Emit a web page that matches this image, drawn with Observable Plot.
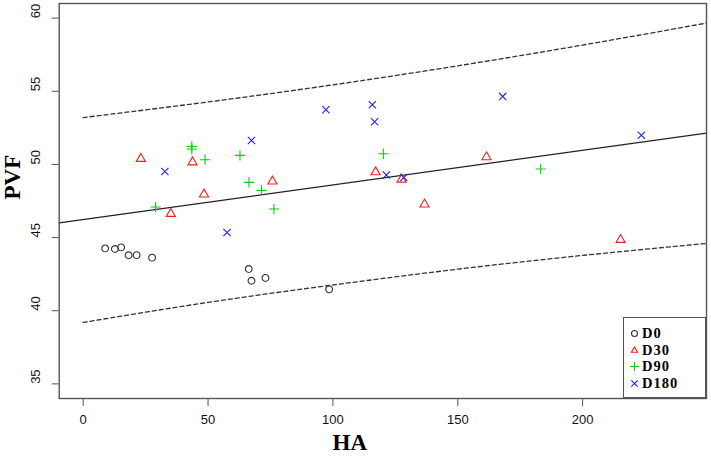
<!DOCTYPE html>
<html>
<head>
<meta charset="utf-8">
<script src="https://cdn.jsdelivr.net/npm/d3@7"></script>
<script src="https://cdn.jsdelivr.net/npm/@observablehq/plot@0.6"></script>
<style>
  html, body { margin: 0; padding: 0; background: #fff; }
  #wrap { position: relative; width: 711px; height: 460px; }
  #legend {
    position: absolute; left: 623px; top: 317px; width: 83px; height: 81px;
    border: 1.3px solid #555; background: #fff; box-sizing: border-box;
  }
  .row { position: absolute; left: 0; height: 15px; display: flex; align-items: center; }
  .row svg { margin-left: 6px; margin-right: 3px; }
  .row span { font-family: "Liberation Serif", "Times New Roman", serif; font-weight: bold; font-size: 14.5px; letter-spacing: 1px; line-height: 15px; color: #000; }
</style>
</head>
<body>
<div id="wrap"></div>
<script>
// ---- data ----
const d0HA   = [8.8, 12.7, 15.2, 18.2, 21.4, 27.6, 66.3, 67.4, 73.0, 98.5];
const d0PVF  = [44.26, 44.22, 44.33, 43.79, 43.80, 43.63, 42.85, 42.05, 42.24, 41.46];
const d30HA  = [23.1, 43.8, 48.4, 35.1, 75.8, 117.1, 127.5, 136.7, 161.5, 215.2];
const d30PVF = [50.39, 50.15, 47.95, 46.63, 48.84, 49.47, 48.97, 47.27, 50.50, 44.85];
const d90HA  = [29.0, 43.5, 43.5, 48.8, 62.8, 66.4, 71.4, 76.4, 120.2, 183.2];
const d90PVF = [47.09, 51.23, 51.05, 50.32, 50.62, 48.77, 48.22, 46.95, 50.73, 49.69];
const d180HA  = [57.6, 32.7, 67.4, 97.2, 115.8, 116.7, 121.4, 128.4, 168.0, 223.5];
const d180PVF = [45.35, 49.52, 51.64, 53.74, 54.08, 52.92, 49.28, 49.11, 54.65, 52.00];

const groups = ["D0", "D30", "D90", "D180"];
const groupColors = ["#333333", "#ee2020", "#10c810", "#2020ee"];
const groupSymbols = ["circle", "triangle", "plus", "times"];

// regression line (spans the plot region) and prediction band
const fitHA  = [-9.6, 249.6];
const fitPVF = [46.0, 52.14];
const bandHA    = [0, 50, 100, 150, 200, 249.6];
const bandUpper = [53.2, 54.27, 55.44, 56.74, 58.16, 59.66];
const bandLower = [39.2, 40.57, 41.76, 42.84, 43.78, 44.6];

const xTicks = [0, 50, 100, 150, 200];
const yTicks = [35, 40, 45, 50, 55, 60];

// ---- build tables ----
const sets = [[d0HA, d0PVF], [d30HA, d30PVF], [d90HA, d90PVF], [d180HA, d180PVF]];
const points = sets.flatMap(([xs, ys], g) => xs.map((x, i) => ({HA: x, PVF: ys[i], group: groups[g]})));
const fit = fitHA.map((x, i) => ({HA: x, PVF: fitPVF[i]}));
const upper = bandHA.map((x, i) => ({HA: x, PVF: bandUpper[i]}));
const lower = bandHA.map((x, i) => ({HA: x, PVF: bandLower[i]}));

const sans = "'Liberation Sans', Arial, sans-serif";
const serif = "'Liberation Serif', 'Times New Roman', serif";

const chart = Plot.plot({
  width: 711,
  height: 460,
  marginLeft: 58.7,
  marginRight: 5,
  marginTop: 3,
  marginBottom: 62,
  style: {background: "white", fontFamily: sans},
  x: {domain: [-9.6, 249.6], label: null},
  y: {domain: [34, 61], label: null},
  color: {domain: groups, range: groupColors},
  symbol: {domain: groups, range: groupSymbols},
  marks: [
    Plot.line(upper, {x: "HA", y: "PVF", stroke: "#333", strokeWidth: 1.3, strokeDasharray: "4,3", curve: "natural"}),
    Plot.line(lower, {x: "HA", y: "PVF", stroke: "#333", strokeWidth: 1.3, strokeDasharray: "4,3", curve: "natural"}),
    Plot.line(fit, {x: "HA", y: "PVF", stroke: "#222", strokeWidth: 1.3}),
    Plot.dot(points, {x: "HA", y: "PVF", stroke: "group", symbol: "group", r: 3.4, strokeWidth: 1.1, fill: "none"}),
    Plot.frame({stroke: "#555", strokeWidth: 1.4}),
    Plot.axisX({ticks: xTicks, tickSize: 8, tickFormat: () => "", label: null, stroke: "#555"}),
    Plot.axisY({ticks: yTicks, tickSize: 7, tickFormat: () => "", label: null, stroke: "#555"}),
    Plot.text(xTicks, {x: d => d, text: d => String(d), frameAnchor: "bottom", dy: 25, fontSize: 13, fill: "#111"}),
    Plot.text(yTicks, {y: d => d, text: d => String(d), frameAnchor: "left", dx: -23, rotate: -90, fontSize: 13, fill: "#111"}),
    Plot.text(["HA"], {text: d => d, frameAnchor: "bottom", dx: -33, dy: 51, fontSize: 23, fontWeight: "bold", fontFamily: serif, fill: "#000"}),
    Plot.text(["PVF"], {text: d => d, frameAnchor: "left", dx: -47, dy: -1.5, rotate: -90, fontSize: 23, fontWeight: "bold", fontFamily: serif, fill: "#000"})
  ]
});

const wrap = document.getElementById("wrap");
wrap.appendChild(chart);

// legend (inside the plot, bottom-right)
const legend = document.createElement("div");
legend.id = "legend";
const rowTops = [8, 24.6, 41.2, 57.8];
groups.forEach((g, i) => {
  const row = document.createElement("div");
  row.className = "row";
  row.style.top = rowTops[i] + "px";
  const s = d3.create("svg").attr("width", 9).attr("height", 9);
  const sym = d3.symbol().type({circle: d3.symbolCircle, triangle: d3.symbolTriangle2, plus: d3.symbolPlus, times: d3.symbolTimes}[groupSymbols[i]]).size(28);
  s.append("path").attr("d", sym()).attr("transform", "translate(4.5,4.5)")
    .attr("fill", "none").attr("stroke", groupColors[i]).attr("stroke-width", 1.1);
  row.appendChild(s.node());
  const t = document.createElement("span");
  t.textContent = g;
  row.appendChild(t);
  legend.appendChild(row);
});
wrap.appendChild(legend);
</script>
</body>
</html>
